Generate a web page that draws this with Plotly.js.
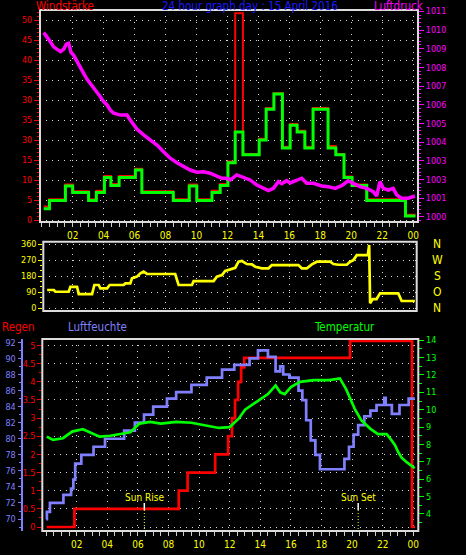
<!DOCTYPE html>
<html>
<head>
<meta charset="utf-8">
<script src="https://cdn.plot.ly/plotly-3.0.1.min.js"></script>
<style>
html,body{margin:0;padding:0;background:#000;}
#chart{width:466px;height:555px;}
</style>
</head>
<body>
<div id="chart"></div>
<script>
// ---------- DATA ----------
const tickHours = [2,4,6,8,10,12,14,16,18,20,22,24];
const tickLabels = ['02','04','06','08','10','12','14','16','18','20','22','00'];

// Top panel: wind speed (Windstärke) and gusts, hours of day
const windTime = [0.13,0.5,1.53,2.0,3.03,3.53,4.05,4.47,5.0,6.05,6.47,8.5,9.53,10.02,11.0,11.53,12.03,12.5,13.0,14.05,14.5,15.0,15.55,16.05,16.5,17.0,17.53,18.5,19.0,19.53,20.05,21.0,23.5,24.15];
const windSpeed = [2.8,4.9,8.5,6.9,4.9,6.9,10.6,8.6,10.6,12.5,6.9,4.9,8.5,4.9,6.9,8.6,14.3,22.0,16.3,20.0,27.7,31.5,18.0,23.7,22.0,18.0,27.7,18.0,16.3,10.6,8.6,4.9,1.0,1.0];
const windGust = [3.4,5.2,8.9,7.2,5.2,7.3,11.0,9.0,11.0,12.8,7.2,5.2,8.9,5.2,7.3,9.0,14.6,51.7,16.5,20.3,28.0,31.7,18.3,24.0,22.3,18.3,28.0,18.5,16.5,10.9,8.9,5.2,1.3,1.3];
const windTicks = [0,5,10,15,20,25,30,35,40,45,50];
const windTickText = ['0','5','10','15','30','35','30','35','40','45','50'];

// Luftdruck (hPa)
const pressTime = [0.13,0.35,0.56,0.77,0.99,1.21,1.42,1.59,1.74,1.9,2.06,2.28,2.5,2.71,2.93,3.14,3.36,3.57,3.79,4.0,4.22,4.43,4.65,5.08,5.51,5.72,5.94,6.15,6.58,7.01,7.45,7.87,8.3,8.74,9.16,9.59,10.03,10.45,10.88,11.32,11.64,11.96,12.18,12.61,13.03,13.46,13.9,14.32,14.65,14.97,15.29,15.5,15.83,16.05,16.26,16.8,17.12,17.55,18.09,18.52,18.95,19.38,19.8,20.13,20.56,20.99,21.42,21.64,21.85,22.07,22.39,22.71,22.93,23.25,23.68,24.11];
const pressure = [1009.86,1009.64,1009.37,1009.1,1008.97,1008.84,1008.97,1009.24,1009.29,1008.79,1008.66,1008.3,1007.95,1007.68,1007.36,1007.15,1006.88,1006.7,1006.43,1006.17,1005.99,1005.72,1005.55,1005.45,1005.45,1005.19,1004.97,1004.7,1004.39,1004.12,1003.85,1003.49,1003.14,1002.9,1002.69,1002.51,1002.39,1002.42,1002.34,1002.16,1002.07,1002.07,1001.98,1002.25,1002.12,1001.98,1001.71,1001.53,1001.41,1001.53,1001.89,1001.78,1001.94,1001.82,1001.89,1002.07,1001.8,1001.8,1001.66,1001.62,1001.53,1001.67,1001.93,1001.8,1001.62,1001.53,1001.35,1001.12,1001.89,1001.53,1001.44,1001.53,1001.18,1001.0,1001.0,1001.12];
const pressTicks = [1000,1001,1002,1003,1004,1005,1006,1007,1008,1009,1010,1011];
const pressTickText = ['1000','1001','1003','1003','1004','1005','1006','1007','1008','1009','1010','1011'];

// Middle panel: wind direction (degrees)
const dirTime = [0.35,0.78,0.88,1.74,1.85,2.28,2.39,3.25,3.4,3.68,3.79,4.22,4.39,5.29,5.4,5.72,5.83,6.15,6.37,6.58,6.8,8.62,8.84,9.7,9.81,11.1,11.31,11.64,11.85,12.18,12.5,12.71,12.93,13.25,13.57,13.79,14.22,14.65,14.86,16.58,16.8,17.12,17.45,17.77,18.63,18.84,19.17,19.7,19.92,20.13,20.35,21.06,21.15,21.21,21.38,21.63,21.85,23.03,23.25,24.1];
const dirDeg = [103,103,93,93,121,121,80,80,131,131,112,112,131,131,140,140,169,178,197,206,193,193,131,131,153,153,178,187,210,219,228,262,266,249,247,234,225,225,243,243,225,225,247,262,262,249,245,245,262,271,299,299,356,28,52,52,84,84,41,41];
const dirTicks = [0,90,180,270,360];
const dirTickText = ['0','90','180','270','360'];
const compassLabels = ['N','O','S','W','N'];

// Bottom panel: humidity (%), rain (mm), temperature (°C)
const humTime = [0.0,0.05,0.25,1.13,1.63,1.78,1.9,2.3,3.1,3.85,5.1,5.8,6.4,7.0,7.9,8.5,9.5,10.5,11.5,12.3,13.3,13.85,14.5,15.0,15.3,15.5,15.9,16.5,16.75,17.0,17.3,17.6,17.9,19.5,19.8,20.1,20.4,20.8,21.2,21.6,22.1,22.2,22.6,23.1,23.7,24.1];
const humidity = [70.0,70.9,72.0,73.0,73.8,74.9,76.9,78.0,79.0,80.0,81.0,82.0,83.0,84.0,85.0,85.8,86.7,87.6,88.6,89.2,90.0,91.0,90.2,88.4,89.0,88.0,87.6,86.0,84.8,82.3,79.8,78.0,76.2,77.5,79.0,80.5,81.7,82.8,83.5,84.2,85.1,84.2,83.1,84.2,85.0,85.0];
const humTicks = [70,72,74,76,78,80,82,84,86,88,90,92];

const rainTime = [0.04,1.85,8.67,9.25,11.05,11.9,12.15,12.35,12.55,12.75,12.95,19.87,23.92,24.1];
const rain = [0.0,0.5,1.0,1.5,2.0,2.5,3.0,3.5,4.0,4.4,4.66,5.13,0.0,0.0];
const rainTicks = [0,0.5,1,1.5,2,2.5,3,3.5,4,4.5,5];
const rainTickText = ['0','0.5','1','1.5','2','2.5','3','3.5','4','4.5','5'];

const tempTime = [0.04,0.45,1.1,1.7,2.4,2.9,3.5,4.2,4.8,5.5,6.1,6.8,7.5,8.5,9.5,10.5,11.3,12.0,12.6,13.0,13.5,14.0,14.5,15.0,15.3,15.6,16.0,16.6,17.5,18.5,19.2,19.6,20.2,20.6,21.2,21.7,22.26,22.48,22.8,23.0,23.24,23.57,23.78,24.1];
const temperature = [8.45,8.26,8.36,8.74,8.88,8.7,8.45,8.5,8.6,8.7,9.2,9.3,9.2,9.3,9.25,9.1,8.95,9.0,9.5,10.0,10.3,10.6,10.9,11.4,11.0,10.9,11.3,11.6,11.7,11.7,11.8,11.2,10.0,9.4,8.9,8.6,8.6,8.36,7.97,7.59,7.24,6.98,6.86,6.63];
const tempTicks = [4,5,6,7,8,9,10,11,12,13,14];

const sunEvents = ['Sun Rise','Sun Set'];
const sunTimes = [6.42,20.4];

// ---------- STYLE ----------
const FONT = 'Liberation Sans Narrow, DejaVu Sans Condensed, Liberation Sans, Arial, sans-serif';
const W = 466, H = 555;
const px = v => v / W;
const py = v => 1 - v / H;
const GRID = '#d8d8d8';
const DASH = '1px,5px';
const FRAME = '#dcdcdc';

const traces = [
  {x: windTime, y: windGust, xaxis:'x', yaxis:'y', type:'scatter', mode:'lines',
   line:{color:'#ff0000', width:2, shape:'hv'}, hoverinfo:'skip'},
  {x: windTime, y: windSpeed, xaxis:'x', yaxis:'y', type:'scatter', mode:'lines',
   line:{color:'#00ff00', width:3, shape:'hv'}, hoverinfo:'skip'},
  {x: pressTime, y: pressure, xaxis:'x', yaxis:'y2', type:'scatter', mode:'lines',
   line:{color:'#ff00ff', width:3.5}, hoverinfo:'skip'},
  {x: dirTime, y: dirDeg, xaxis:'x2', yaxis:'y3', type:'scatter', mode:'lines',
   line:{color:'#ffff00', width:2.7}, hoverinfo:'skip'},
  {x: humTime, y: humidity, xaxis:'x3', yaxis:'y5', type:'scatter', mode:'lines',
   line:{color:'#8080ff', width:2.7, shape:'hv'}, hoverinfo:'skip'},
  {x: tempTime, y: temperature, xaxis:'x3', yaxis:'y6', type:'scatter', mode:'lines',
   line:{color:'#00ff00', width:2.7}, hoverinfo:'skip'},
  {x: rainTime, y: rain, xaxis:'x3', yaxis:'y4', type:'scatter', mode:'lines',
   line:{color:'#ff0000', width:2.7, shape:'hv'}, hoverinfo:'skip'}
];

const tickFont = (c, s) => ({family: FONT, size: s || 9, color: c});

function xAxis(domain, range, anchor, labels) {
  return {
    domain: domain, range: range, anchor: anchor,
    tickmode:'array', tickvals: tickHours, ticktext: tickLabels,
    showticklabels: labels, ticks: labels ? 'outside' : '', ticklen: 4, tickcolor: '#cccccc',
    tickfont: tickFont('#ffff00', 10),
    minor: labels ? {tickmode:'linear', tick0:0, dtick:0.5, ticks:'outside', ticklen:4, tickcolor:'#cccccc', showgrid:false} : undefined,
    showgrid: true, gridcolor: GRID, griddash: DASH, gridwidth: 1,
    zeroline: false, showline: false, fixedrange: true
  };
}

const titleFont = c => ({family: FONT, size: 11.5, color: c});
const headerY = py(-3);

const layout = {
  width: W, height: H,
  margin: {l:0, r:0, t:0, b:0},
  paper_bgcolor: '#000000', plot_bgcolor: '#000000',
  showlegend: false,
  font: {family: FONT, color: '#ffffff'},
  xaxis: xAxis([px(40), px(418)], [-0.11, 24.31], 'y', true),
  xaxis2: xAxis([px(43.3), px(416.7)], [0.10, 24.22], 'y3', false),
  xaxis3: xAxis([px(42.3), px(418.3)], [-0.25, 24.33], 'y4', true),
  yaxis: {
    domain: [py(222), py(10)], range: [-0.5, 52.5], anchor: 'x',
    tickmode:'array', tickvals: windTicks, ticktext: windTickText,
    ticks:'outside', ticklen:5, tickcolor:'#ff0000', tickfont: tickFont('#ff0000'),
    minor: {tickmode:'linear', tick0:0, dtick:1, ticks:'outside', ticklen:2, tickcolor:'#ff0000', showgrid:false},
    showgrid: true, gridcolor: GRID, griddash: DASH, gridwidth: 1,
    zeroline:false, showline:false, fixedrange:true
  },
  yaxis2: {
    overlaying: 'y', side: 'right', anchor: 'x', range: [999.73, 1011.07],
    tickmode:'array', tickvals: pressTicks, ticktext: pressTickText,
    ticks:'outside', ticklen:5, tickcolor:'#ff00ff', tickfont: tickFont('#ff00ff'),
    minor: {tickmode:'linear', tick0:1000, dtick:0.2, ticks:'outside', ticklen:2, tickcolor:'#ff00ff', showgrid:false},
    showgrid:false, zeroline:false, showline:false, fixedrange:true
  },
  yaxis3: {
    domain: [py(311), py(241.7)], range: [-15.2, 374.6], anchor: 'x2',
    tickmode:'array', tickvals: dirTicks, ticktext: dirTickText,
    ticks:'outside', ticklen:4, tickcolor:'#ffff00', tickfont: tickFont('#ffff00'),
    minor: {tickmode:'linear', tick0:0, dtick:30, ticks:'outside', ticklen:2, tickcolor:'#ffff00', showgrid:false},
    showgrid:true, gridcolor: GRID, griddash: DASH, gridwidth:1,
    zeroline:false, showline:false, fixedrange:true
  },
  yaxis4: {
    domain: [py(531), py(339)], range: [-0.11, 5.18], anchor: 'x3',
    tickmode:'array', tickvals: rainTicks, ticktext: rainTickText,
    ticks:'outside', ticklen:4, tickcolor:'#ff0000', tickfont: tickFont('#ff0000'),
    minor: {tickmode:'linear', tick0:0, dtick:0.25, ticks:'outside', ticklen:2, tickcolor:'#ff0000', showgrid:false},
    showgrid:true, gridcolor: GRID, griddash: DASH, gridwidth:1,
    zeroline:false, showline:false, fixedrange:true
  },
  yaxis5: {
    overlaying: 'y4', side: 'left', anchor: 'free', position: px(21.5), range: [68.51, 92.42],
    tickmode:'array', tickvals: humTicks,
    ticks:'outside', ticklen:3, tickcolor:'#8080ff', tickfont: tickFont('#8080ff'),
    minor: {tickmode:'linear', tick0:70, dtick:1, ticks:'outside', ticklen:2, tickcolor:'#8080ff', showgrid:false},
    showline:true, linecolor:'#8080ff', linewidth:2.5,
    showgrid:false, zeroline:false, fixedrange:true
  },
  yaxis6: {
    overlaying: 'y4', side: 'right', anchor: 'x3', range: [3.02, 14.07],
    tickmode:'array', tickvals: tempTicks,
    ticks:'outside', ticklen:5, tickcolor:'#00ff00', tickfont: tickFont('#00ff00'),
    minor: {tickmode:'linear', tick0:4, dtick:0.5, ticks:'outside', ticklen:3, tickcolor:'#00ff00', showgrid:false},
    showline:false,
    showgrid:false, zeroline:false, fixedrange:true
  },
  shapes: [
    {type:'rect', xref:'paper', yref:'paper', x0:px(40), x1:px(418), y0:py(222), y1:py(10), line:{color:FRAME, width:2}, layer:'above'},
    {type:'rect', xref:'paper', yref:'paper', x0:px(43.3), x1:px(416.7), y0:py(311), y1:py(241.7), line:{color:FRAME, width:2}, layer:'above'},
    {type:'rect', xref:'paper', yref:'paper', x0:px(42.3), x1:px(418.3), y0:py(531), y1:py(339), line:{color:FRAME, width:2}, layer:'above'}
  ],
  annotations: [
    {text:'Windstärke', xref:'paper', yref:'paper', x:px(34), y:headerY, xanchor:'left', yanchor:'top', showarrow:false, font:titleFont('#ff0000')},
    {text:'24 hour graph day : 15 April 2016', xref:'paper', yref:'paper', x:px(250), y:headerY, xanchor:'center', yanchor:'top', showarrow:false, font:titleFont('#1a1aff')},
    {text:'Luftdruck', xref:'paper', yref:'paper', x:px(372), y:headerY, xanchor:'left', yanchor:'top', showarrow:false, font:titleFont('#ff00ff')},
    {text:'Regen', xref:'paper', yref:'paper', x:px(0), y:py(327), xanchor:'left', yanchor:'middle', showarrow:false, font:titleFont('#ff0000')},
    {text:'Luftfeuchte', xref:'paper', yref:'paper', x:px(66), y:py(327), xanchor:'left', yanchor:'middle', showarrow:false, font:titleFont('#8080ff')},
    {text:'Temperatur', xref:'paper', yref:'paper', x:px(312), y:py(327), xanchor:'left', yanchor:'middle', showarrow:false, font:titleFont('#00ff00')}
  ]
};

// compass letters beside direction panel
dirTicks.forEach((d, i) => {
  layout.annotations.push({text: compassLabels[i], xref:'paper', yref:'y3', x:px(437), y:d,
    xanchor:'center', yanchor:'middle', showarrow:false, font:{family:FONT, size:12, color:'#ffff00'}});
});

// sunrise / sunset markers
sunTimes.forEach((t, i) => {
  layout.shapes.push({type:'line', xref:'x3', yref:'paper', x0:t, x1:t, y0:py(510), y1:py(503), line:{color:'#ffffff', width:1.5}});
  layout.shapes.push({type:'line', xref:'x3', yref:'paper', x0:t, x1:t, y0:py(529), y1:py(510), line:{color:'#ffff00', width:1, dash:'1px,2px'}});
  layout.annotations.push({text: sunEvents[i], xref:'x3', yref:'paper', x:t, y:py(497), xanchor:'center', yanchor:'middle', showarrow:false,
    font:{family:FONT, size:10, color:'#ffff00'}});
});

Plotly.newPlot('chart', traces, layout, {staticPlot:true, displayModeBar:false});
</script>
</body>
</html>
